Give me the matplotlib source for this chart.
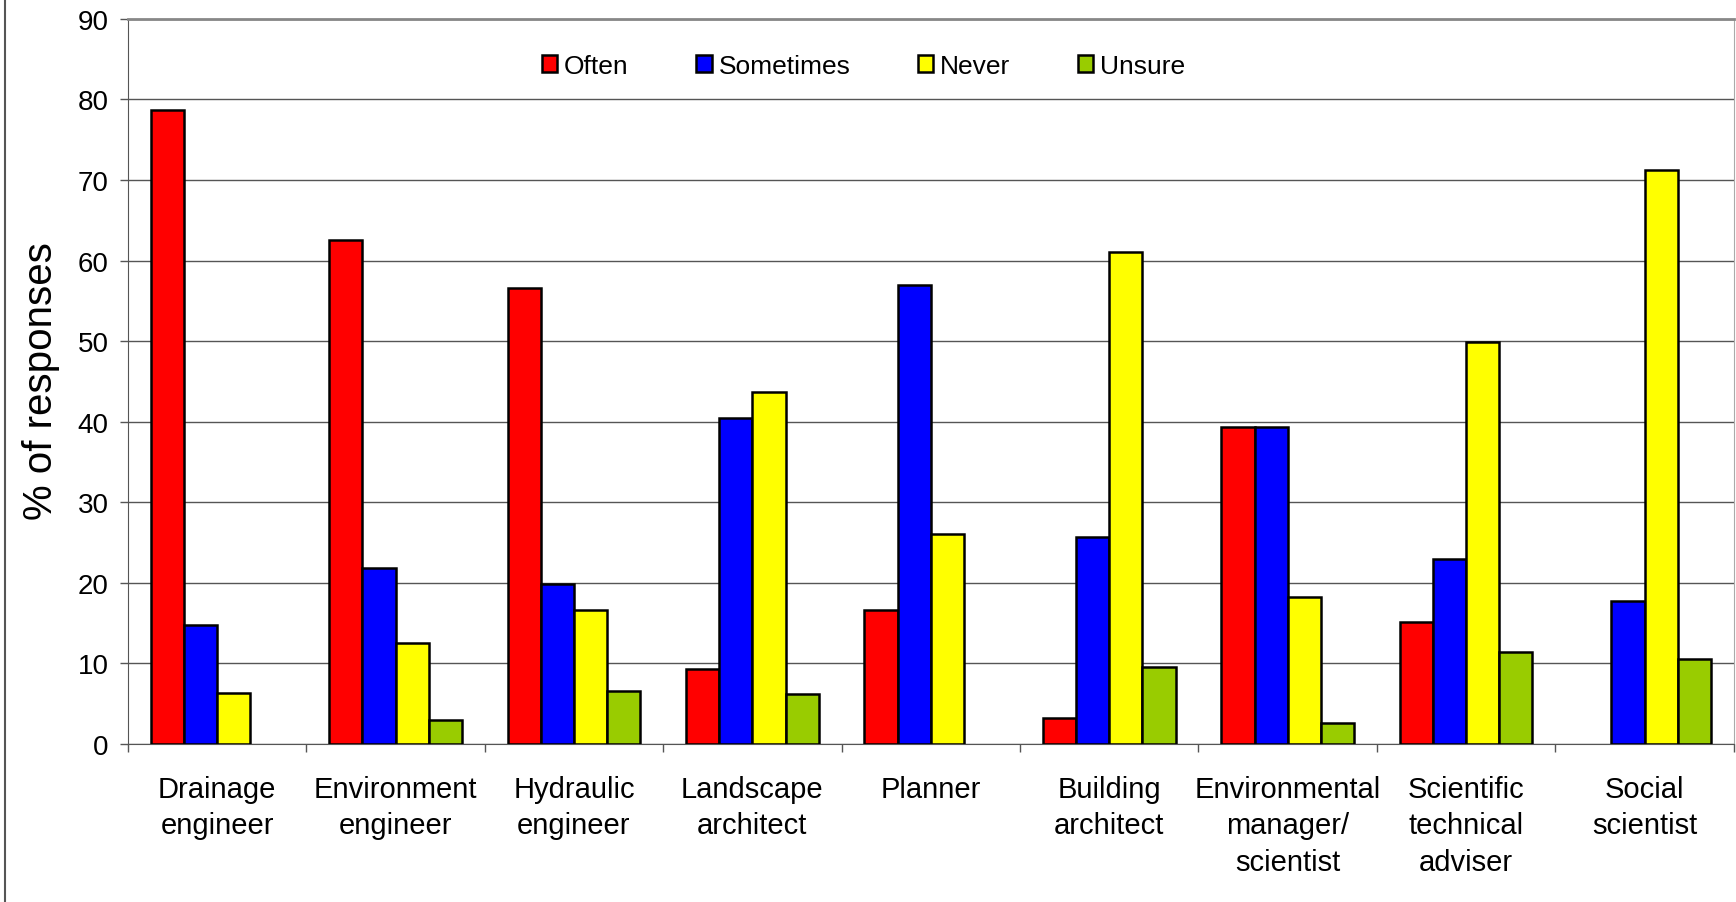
import numpy as np
import matplotlib.pyplot as plt
from matplotlib.lines import Line2D

plt.rcParams['font.family'] = ['Liberation Sans', 'DejaVu Sans']

# Data
categories = ["Drainage\nengineer", "Environment\nengineer", "Hydraulic\nengineer",
              "Landscape\narchitect", "Planner", "Building\narchitect",
              "Environmental\nmanager/\nscientist", "Scientific\ntechnical\nadviser",
              "Social\nscientist"]
often = [78.7, 62.5, 56.6, 9.3, 16.6, 3.2, 39.4, 15.2, 0.0]
sometimes = [14.8, 21.8, 19.9, 40.5, 57.0, 25.7, 39.4, 22.9, 17.7]
never = [6.3, 12.5, 16.6, 43.7, 26.1, 61.1, 18.3, 49.9, 71.3]
unsure = [0.0, 3.0, 6.6, 6.2, 0.0, 9.6, 2.6, 11.4, 10.6]

series = [("Often", often, "#FF0000"),
          ("Sometimes", sometimes, "#0000FF"),
          ("Never", never, "#FFFF00"),
          ("Unsure", unsure, "#99CC00")]

fig = plt.figure(figsize=(17.36, 9.03), dpi=100)
ax = fig.add_axes([0.0737, 0.175, 0.925, 0.803])

x = np.arange(len(categories))
w = 0.186
for i, (name, vals, col) in enumerate(series):
    vals = np.array(vals)
    # zero values are simply absent in the original
    lw = np.where(vals > 0, 1.8, 0)
    ax.bar(x + (i - 1.5) * w, vals, width=w, color=col, edgecolor="black",
           linewidth=lw, label=name, zorder=3)

ax.set_xlim(-0.5, len(categories) - 0.5)
ax.set_ylim(0, 90)
ax.set_yticks(range(0, 91, 10))
ax.yaxis.grid(True, color="#555555", linewidth=1, zorder=0)

ax.set_xticks(x)
ax.set_xticklabels(categories, fontsize=21, linespacing=1.4)
ax.set_xticks(np.arange(-0.5, len(categories)), minor=True)
ax.tick_params(axis="x", which="major", length=0, pad=22)
ax.tick_params(axis="x", which="minor", length=6, width=1, color="#555555", direction="out")
ax.tick_params(axis="y", labelsize=20, length=6, width=1, color="#555555", pad=8)

ax.spines["left"].set_color("#555555")
ax.spines["bottom"].set_color("#555555")
ax.spines["top"].set_color("#888888")
ax.spines["top"].set_linewidth(2)
ax.spines["right"].set_color("#aaaaaa")

fig.text(0.0236, 0.578, "% of responses", rotation=90, fontsize=29,
         ha="center", va="center")

leg = ax.legend(loc="center", bbox_to_anchor=(0.458, 0.935), ncol=4, frameon=False,
                fontsize=19, handlelength=0.6, handleheight=0.6, handletextpad=0.25,
                columnspacing=2.55)
for h in leg.legend_handles:
    h.set_linewidth(1.8)

fig.add_artist(Line2D([0.003, 0.003], [0, 1], transform=fig.transFigure,
                      color="#555555", linewidth=1.5))

fig.savefig("out.png", dpi=100)
